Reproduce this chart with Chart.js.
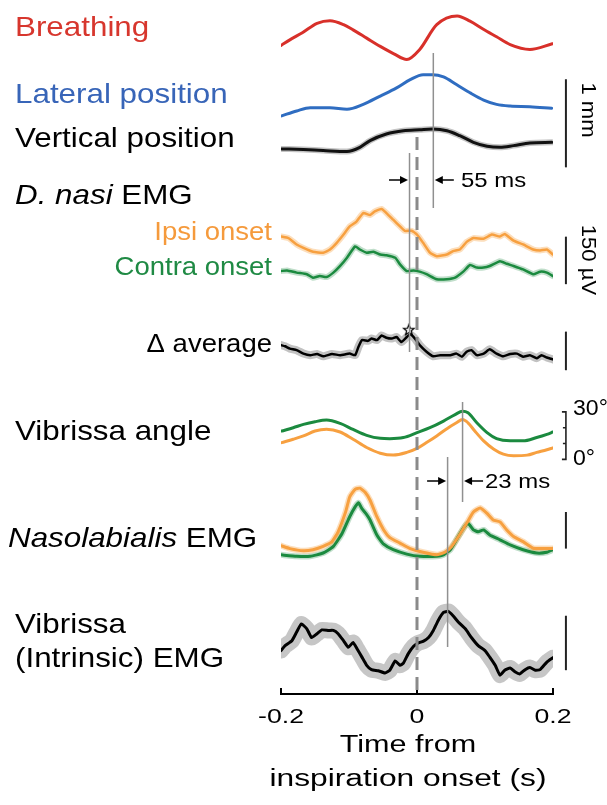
<!DOCTYPE html>
<html>
<head>
<meta charset="utf-8">
<script src="https://cdn.jsdelivr.net/npm/chart.js@4.4.1/dist/chart.umd.min.js"></script>
<style>
  html, body { margin: 0; padding: 0; background: #fff; }
  #wrap { width: 607px; height: 805px; position: relative; }
</style>
</head>
<body>
<div id="wrap"><canvas id="fig" width="607" height="805"></canvas></div>
<script>
// ---- data (time in s) ----
const tickValues = [-0.2, 0, 0.2];
const tickLabels = ['-0.2', '0', '0.2'];

// breathing (a.u.)
const breathT = [-0.2, -0.187, -0.168, -0.147, -0.128, -0.108, -0.094, -0.074, -0.054, -0.034, -0.015, 0.004, 0.029, 0.059, 0.078, 0.097, 0.117, 0.137, 0.166, 0.199];
const breathV = [0.32, 0.45, 0.62, 0.83, 0.89, 0.80, 0.68, 0.49, 0.30, 0.13, 0.00, 0.23, 0.80, 1.00, 0.88, 0.70, 0.52, 0.34, 0.23, 0.36];

// lateral / vertical position (mm)
const latT = [-0.199, -0.177, -0.157, -0.128, -0.103, -0.079, -0.054, -0.030, -0.010, 0.009, 0.023, 0.039, 0.058, 0.078, 0.098, 0.117, 0.137, 0.166, 0.198];
const latV = [0, 0.056, 0.093, 0.093, 0.075, 0.131, 0.225, 0.318, 0.412, 0.468, 0.468, 0.442, 0.356, 0.262, 0.180, 0.131, 0.112, 0.105, 0.087];
const vertT = [-0.199, -0.167, -0.138, -0.103, -0.084, -0.069, -0.045, -0.020, 0.004, 0.023, 0.044, 0.063, 0.083, 0.103, 0.122, 0.142, 0.166, 0.198];
const vertV = [0.030, 0.022, 0.011, 0, 0.048, 0.124, 0.199, 0.236, 0.247, 0.255, 0.236, 0.180, 0.105, 0.060, 0.048, 0.067, 0.097, 0.104];

// D. nasi EMG (uV)
const ipsiT = [-0.2, -0.189, -0.177, -0.167, -0.153, -0.138, -0.128, -0.118, -0.108, -0.099, -0.089, -0.079, -0.069, -0.062, -0.052, -0.045, -0.035, -0.025, -0.018, -0.008, 0.000, 0.009, 0.019, 0.029, 0.044, 0.053, 0.063, 0.073, 0.083, 0.098, 0.110, 0.122, 0.129, 0.142, 0.156, 0.171, 0.181, 0.191, 0.200];
const ipsiV = [63, 58, 38, 27, 15, 12, 22, 43, 69, 95, 110, 137, 131, 142, 150, 137, 116, 95, 81, 81, 69, 43, 12, 1, 6, 17, 22, 46, 58, 56, 69, 63, 71, 50, 38, 22, 19, 22, 6];
const contraT = [-0.200, -0.191, -0.177, -0.162, -0.153, -0.143, -0.133, -0.123, -0.113, -0.103, -0.091, -0.084, -0.074, -0.064, -0.054, -0.045, -0.032, -0.025, -0.015, -0.005, 0.004, 0.014, 0.029, 0.044, 0.056, 0.068, 0.078, 0.088, 0.098, 0.107, 0.122, 0.132, 0.142, 0.156, 0.171, 0.181, 0.191, 0.200];
const contraV = [29, 31, 24, 19, 8, 13, 10, 24, 45, 71, 107, 97, 87, 90, 81, 79, 71, 50, 29, 31, 27, 19, 3, 3, 8, 27, 48, 40, 40, 45, 60, 52, 45, 34, 19, 27, 24, 13];

// delta average (a.u.)
const deltaT = [-0.2, -0.194, -0.187, -0.177, -0.167, -0.157, -0.147, -0.138, -0.125, -0.113, -0.099, -0.091, -0.086, -0.081, -0.072, -0.067, -0.059, -0.052, -0.045, -0.037, -0.030, -0.023, -0.015, -0.010, -0.003, 0.004, 0.014, 0.024, 0.034, 0.049, 0.058, 0.066, 0.073, 0.080, 0.088, 0.098, 0.107, 0.117, 0.127, 0.137, 0.147, 0.156, 0.166, 0.176, 0.183, 0.191, 0.200];
const deltaV = [0.37, 0.34, 0.28, 0.24, 0.15, 0.11, 0.14, 0.08, 0.14, 0.11, 0.15, 0.11, 0.33, 0.50, 0.48, 0.54, 0.50, 0.62, 0.56, 0.54, 0.58, 0.45, 0.58, 0.65, 0.54, 0.37, 0.20, 0.08, 0.11, 0.11, 0.15, 0.07, 0.20, 0.24, 0.11, 0.15, 0.26, 0.15, 0.08, 0.14, 0.15, 0.07, 0.11, 0.03, 0.11, 0.05, 0.00];
const deltaPeakT = [-0.012];
const deltaPeakV = [0.76];

// vibrissa angle (deg)
const angGreenT = [-0.199, -0.182, -0.167, -0.150, -0.133, -0.113, -0.094, -0.074, -0.054, -0.040, -0.020, 0.000, 0.019, 0.039, 0.056, 0.067, 0.075, 0.088, 0.103, 0.117, 0.137, 0.156, 0.176, 0.191, 0.2];
const angGreenV = [17.9, 20.0, 22.1, 23.8, 24.8, 22.7, 18.9, 15.2, 13.3, 13.1, 13.8, 16.9, 20.0, 24.2, 28.3, 30.4, 29.4, 23.1, 16.9, 13.1, 11.7, 11.7, 13.8, 15.8, 17.3];
const angOrangeT = [-0.199, -0.182, -0.167, -0.150, -0.133, -0.113, -0.094, -0.074, -0.054, -0.035, -0.015, 0.000, 0.014, 0.029, 0.044, 0.058, 0.067, 0.075, 0.085, 0.098, 0.113, 0.127, 0.142, 0.162, 0.176, 0.191, 0.200];
const angOrangeV = [10.6, 12.7, 14.8, 17.9, 19.0, 17.3, 12.7, 7.5, 3.9, 2.7, 4.4, 6.9, 10.6, 14.8, 19.4, 23.1, 25.2, 23.1, 17.9, 11.7, 6.4, 3.3, 2.3, 2.7, 4.4, 6.1, 7.3];

// nasolabialis EMG (a.u.)
const nasoOrangeT = [-0.2, -0.187, -0.167, -0.153, -0.138, -0.125, -0.116, -0.105, -0.099, -0.091, -0.084, -0.076, -0.069, -0.059, -0.049, -0.040, -0.025, -0.010, 0.009, 0.029, 0.041, 0.051, 0.061, 0.073, 0.083, 0.093, 0.103, 0.112, 0.122, 0.132, 0.142, 0.156, 0.171, 0.185, 0.200];
const nasoOrangeV = [0.32, 0.24, 0.18, 0.21, 0.30, 0.43, 0.70, 1.24, 1.65, 1.86, 1.89, 1.77, 1.56, 1.11, 0.75, 0.54, 0.39, 0.24, 0.14, 0.07, 0.14, 0.30, 0.57, 0.93, 1.24, 1.35, 1.20, 1.02, 0.97, 0.75, 0.57, 0.43, 0.25, 0.24, 0.24];
const nasoGreenT = [-0.2, -0.177, -0.157, -0.138, -0.123, -0.110, -0.099, -0.091, -0.086, -0.081, -0.074, -0.069, -0.059, -0.049, -0.035, -0.015, 0.004, 0.029, 0.039, 0.049, 0.058, 0.068, 0.075, 0.083, 0.090, 0.098, 0.107, 0.122, 0.137, 0.156, 0.176, 0.191, 0.2];
const nasoGreenV = [0.07, 0.03, 0.03, 0.12, 0.30, 0.66, 1.11, 1.38, 1.49, 1.33, 1.17, 1.02, 0.61, 0.36, 0.21, 0.09, 0.03, 0.03, 0.07, 0.21, 0.48, 0.79, 0.93, 0.75, 0.70, 0.75, 0.61, 0.48, 0.34, 0.21, 0.12, 0.14, 0.21];

// vibrissa intrinsic EMG (a.u.)
const intrT = [-0.2, -0.194, -0.184, -0.177, -0.170, -0.162, -0.155, -0.147, -0.140, -0.130, -0.123, -0.116, -0.108, -0.101, -0.094, -0.088, -0.081, -0.074, -0.067, -0.057, -0.047, -0.040, -0.032, -0.025, -0.020, -0.013, -0.005, 0.002, 0.009, 0.017, 0.024, 0.031, 0.039, 0.046, 0.053, 0.061, 0.071, 0.080, 0.090, 0.100, 0.107, 0.115, 0.122, 0.129, 0.137, 0.144, 0.151, 0.159, 0.166, 0.174, 0.181, 0.191, 0.200];
const intrV = [0.47, 0.56, 0.65, 0.81, 0.96, 0.87, 0.71, 0.78, 0.85, 0.84, 0.84, 0.78, 0.65, 0.53, 0.62, 0.50, 0.35, 0.20, 0.12, 0.10, 0.06, 0.11, 0.28, 0.20, 0.24, 0.41, 0.55, 0.61, 0.64, 0.71, 0.84, 1.02, 1.17, 1.19, 1.11, 0.99, 0.87, 0.71, 0.56, 0.47, 0.35, 0.20, 0.02, 0.11, 0.15, 0.08, 0.04, 0.12, 0.16, 0.11, 0.12, 0.26, 0.34];

// ---- layout: each row gets its own hidden y axis (baseline px, px per unit) ----
const areaBottom = 694;
const rows = {
  breath: { base: 53, ppu: 44 },
  lat:    { base: 110, ppu: 89 },
  vert:   { base: 146, ppu: 89 },
  ipsi:   { base: 252, ppu: 0.32 },
  contra: { base: 276, ppu: 0.32 },
  delta:  { base: 356, ppu: 39 },
  angle:  { base: 457, ppu: 1.6 },
  naso:   { base: 556, ppu: 37 },
  intr:   { base: 676, ppu: 55 }
};

const RED = '#d8302a', BLUE = '#2f6dc1', ORANGE = '#f7a040', GREEN = '#1b8a3f';
const FONT = '"Liberation Sans", Arial, sans-serif';

function pts(ts, vs) {
  return ts.map((t, i) => ({ x: t, y: vs[i] }));
}

function trace(ts, vs, axis, color, width, smooth) {
  return {
    data: pts(ts, vs), yAxisID: axis, borderColor: color, borderWidth: width,
    pointRadius: 0, fill: false, order: 1,
    cubicInterpolationMode: smooth ? 'monotone' : 'default', tension: smooth ? 0.4 : 0.15,
    borderJoinStyle: 'round', borderCapStyle: 'round'
  };
}

function band(ts, vs, axis, color, width, smooth) {
  const d = trace(ts, vs, axis, color, width, smooth);
  d.order = 5;
  return d;
}

function starImage() {
  const c = document.createElement('canvas');
  c.width = c.height = 14;
  const g = c.getContext('2d');
  g.beginPath();
  for (let i = 0; i < 10; i++) {
    const r = i % 2 ? 2.4 : 5.6;
    const a = -Math.PI / 2 + i * Math.PI / 5;
    g.lineTo(7 + r * Math.cos(a), 7 + r * Math.sin(a));
  }
  g.closePath();
  g.fillStyle = '#fff';
  g.fill();
  g.strokeStyle = '#000';
  g.lineWidth = 1.2;
  g.stroke();
  return c;
}

const datasets = [
  trace(breathT, breathV, 'breath', RED, 3, true),
  trace(latT, latV, 'lat', BLUE, 3, true),
  band(vertT, vertV, 'vert', '#c4c4c4', 6, true),
  trace(vertT, vertV, 'vert', '#111', 3, true),
  band(ipsiT, ipsiV, 'ipsi', 'rgba(247,160,64,0.35)', 6, false),
  trace(ipsiT, ipsiV, 'ipsi', ORANGE, 2.5, false),
  band(contraT, contraV, 'contra', 'rgba(27,138,63,0.28)', 6, false),
  trace(contraT, contraV, 'contra', GREEN, 2.5, false),
  band(deltaT, deltaV, 'delta', '#c2c2c2', 8, false),
  trace(deltaT, deltaV, 'delta', '#000', 2.5, false),
  {
    type: 'scatter', data: pts(deltaPeakT, deltaPeakV), yAxisID: 'delta', order: 0,
    pointStyle: starImage(), pointRadius: 6, showLine: false
  },
  trace(angGreenT, angGreenV, 'angle', GREEN, 3, true),
  trace(angOrangeT, angOrangeV, 'angle', ORANGE, 3, true),
  band(nasoOrangeT, nasoOrangeV, 'naso', 'rgba(247,160,64,0.35)', 6, false),
  trace(nasoOrangeT, nasoOrangeV, 'naso', ORANGE, 3, false),
  band(nasoGreenT, nasoGreenV, 'naso', 'rgba(27,138,63,0.28)', 6, false),
  trace(nasoGreenT, nasoGreenV, 'naso', GREEN, 3, false),
  band(intrT, intrV, 'intr', '#c6c6c6', 16, false),
  trace(intrT, intrV, 'intr', '#000', 3, false)
];

// ---- annotations ----
const guides = [
  { t: 0, y0: 137, y1: 690, color: '#8a8a8a', width: 3, dash: [13, 7] },
  { t: 0.024, y0: 53, y1: 208, color: '#909090', width: 1.5 },
  { t: -0.011, y0: 153, y1: 352, color: '#909090', width: 1.5 },
  { t: 0.067, y0: 402, y1: 502, color: '#909090', width: 1.5 },
  { t: 0.045, y0: 457, y1: 647, color: '#909090', width: 1.5 }
];
const arrows = [
  { tip: -0.011, dir: 1, y: 180 },
  { tip: 0.024, dir: -1, y: 180 },
  { tip: 0.045, dir: 1, y: 481 },
  { tip: 0.067, dir: -1, y: 481 }
];
const barT = 0.219;
const scaleBars = [
  { axis: 'lat', from: -0.584, to: 0.416 },
  { axis: 'contra', from: -12.5, to: 137.5 },
  { axis: 'delta', from: -0.28, to: 0.72 },
  { axis: 'naso', from: 0.24, to: 1.24 },
  { axis: 'intr', from: 0.11, to: 1.11 }
];
const angleBracket = { axis: 'angle', from: 0, to: 30, marks: [10, 20] };

const labels = [
  { parts: [{ t: 'Breathing' }], x: 15, y: 36, color: '#d7362d', size: 28, sx: 1.12 },
  { parts: [{ t: 'Lateral position' }], x: 15, y: 103, color: '#3865b8', size: 28, sx: 1.12 },
  { parts: [{ t: 'Vertical position' }], x: 15, y: 147, color: '#000', size: 28, sx: 1.12 },
  { parts: [{ t: 'D. nasi', it: true }, { t: ' EMG' }], x: 15, y: 204, color: '#000', size: 28, sx: 1.12 },
  { parts: [{ t: 'Ipsi onset' }], x: 272, y: 240, color: '#f59a3c', size: 25, sx: 1.1, align: 'right' },
  { parts: [{ t: 'Contra onset' }], x: 272, y: 275, color: '#1f8a44', size: 25, sx: 1.1, align: 'right' },
  { parts: [{ t: '\u0394 average' }], x: 272, y: 352, color: '#000', size: 25, sx: 1.1, align: 'right' },
  { parts: [{ t: 'Vibrissa angle' }], x: 15, y: 440, color: '#000', size: 28, sx: 1.12 },
  { parts: [{ t: 'Nasolabialis', it: true }, { t: ' EMG' }], x: 8, y: 547, color: '#000', size: 28, sx: 1.12 },
  { parts: [{ t: 'Vibrissa' }], x: 15, y: 633, color: '#000', size: 28, sx: 1.12 },
  { parts: [{ t: '(Intrinsic) EMG' }], x: 15, y: 667, color: '#000', size: 28, sx: 1.12 },
  { parts: [{ t: '55 ms' }], x: 461, y: 187, color: '#000', size: 21, sx: 1.14 },
  { parts: [{ t: '23 ms' }], x: 485, y: 488, color: '#000', size: 21, sx: 1.14 },
  { parts: [{ t: '30\u00b0' }], x: 573, y: 415, color: '#000', size: 22, sx: 1.05 },
  { parts: [{ t: '0\u00b0' }], x: 573, y: 465, color: '#000', size: 22, sx: 1.05 },
  { parts: [{ t: 'Time from' }], x: 408, y: 752, color: '#000', size: 23, sx: 1.33, align: 'center' },
  { parts: [{ t: 'inspiration onset (s)' }], x: 408, y: 786, color: '#000', size: 23, sx: 1.38, align: 'center' }
];
const sideLabels = [
  { t: '1 mm', x: 588, y: 110, size: 21, sx: 1.05 },
  { t: '150 \u00b5V', x: 588, y: 260, size: 21, sx: 1.05 }
];

function fontFor(size, it) {
  return (it ? 'italic ' : '') + size + 'px ' + FONT;
}

function drawRich(ctx, lab) {
  ctx.save();
  ctx.textBaseline = 'alphabetic';
  ctx.textAlign = 'left';
  let w = 0;
  lab.parts.forEach(p => { ctx.font = fontFor(lab.size, p.it); w += ctx.measureText(p.t).width; });
  ctx.translate(lab.x, lab.y);
  ctx.scale(lab.sx || 1, 1);
  let cx = lab.align === 'right' ? -w : lab.align === 'center' ? -w / 2 : 0;
  lab.parts.forEach(p => {
    ctx.font = fontFor(lab.size, p.it);
    ctx.fillStyle = lab.color;
    ctx.fillText(p.t, cx, 0);
    cx += ctx.measureText(p.t).width;
  });
  ctx.restore();
}

const figurePlugin = {
  id: 'figure',
  afterDatasetsDraw(chart) {
    const ctx = chart.ctx;
    const xs = chart.scales.x;

    guides.forEach(g => {
      const px = xs.getPixelForValue(g.t);
      ctx.save();
      ctx.strokeStyle = g.color;
      ctx.lineWidth = g.width;
      ctx.setLineDash(g.dash || []);
      ctx.beginPath();
      ctx.moveTo(px, g.y0);
      ctx.lineTo(px, g.y1);
      ctx.stroke();
      ctx.restore();
    });

    arrows.forEach(a => {
      const tip = xs.getPixelForValue(a.tip) - a.dir * 1.5;
      const tail = tip - a.dir * 19;
      ctx.save();
      ctx.strokeStyle = '#000';
      ctx.fillStyle = '#000';
      ctx.lineWidth = 1.5;
      ctx.beginPath();
      ctx.moveTo(tail, a.y);
      ctx.lineTo(tip - a.dir * 5, a.y);
      ctx.stroke();
      ctx.beginPath();
      ctx.moveTo(tip, a.y);
      ctx.lineTo(tip - a.dir * 8, a.y - 4);
      ctx.lineTo(tip - a.dir * 8, a.y + 4);
      ctx.closePath();
      ctx.fill();
      ctx.restore();
    });

    const bx = xs.getPixelForValue(barT);
    ctx.save();
    ctx.strokeStyle = '#222';
    ctx.lineWidth = 2;
    scaleBars.forEach(b => {
      const ys = chart.scales[b.axis];
      ctx.beginPath();
      ctx.moveTo(bx, ys.getPixelForValue(b.from));
      ctx.lineTo(bx, ys.getPixelForValue(b.to));
      ctx.stroke();
    });
    const ay = chart.scales[angleBracket.axis];
    const y0 = ay.getPixelForValue(angleBracket.from), y1 = ay.getPixelForValue(angleBracket.to);
    ctx.lineWidth = 1.6;
    ctx.beginPath();
    ctx.moveTo(bx - 4, y1); ctx.lineTo(bx, y1); ctx.lineTo(bx, y0); ctx.lineTo(bx - 4, y0);
    angleBracket.marks.forEach(m => {
      const my = ay.getPixelForValue(m);
      ctx.moveTo(bx - 3, my); ctx.lineTo(bx, my);
    });
    ctx.stroke();
    ctx.restore();

    labels.forEach(l => drawRich(ctx, l));

    sideLabels.forEach(s => {
      ctx.save();
      ctx.translate(s.x, s.y);
      ctx.rotate(Math.PI / 2);
      ctx.scale(s.sx, 1);
      ctx.font = fontFor(s.size);
      ctx.fillStyle = '#000';
      ctx.textAlign = 'center';
      ctx.textBaseline = 'middle';
      ctx.fillText(s.t, 0, 0);
      ctx.restore();
    });

    tickValues.forEach((v, i) => {
      drawRich(ctx, {
        parts: [{ t: tickLabels[i] }], x: xs.getPixelForValue(v), y: 723,
        color: '#000', size: 21, sx: 1.27, align: 'center'
      });
    });
  }
};

const scales = {
  x: {
    type: 'linear', min: -0.2, max: 0.2, position: 'bottom',
    afterBuildTicks: s => { s.ticks = tickValues.map(v => ({ value: v })); },
    afterFit: s => { s.height = 805 - areaBottom; },
    ticks: { display: false },
    grid: { drawOnChartArea: false, drawTicks: true, tickLength: -6, color: '#000', lineWidth: 2 },
    border: { display: true, color: '#000', width: 2 }
  }
};
Object.keys(rows).forEach(k => {
  const r = rows[k];
  scales[k] = {
    type: 'linear', display: false,
    min: -(areaBottom - r.base) / r.ppu,
    max: r.base / r.ppu
  };
});

new Chart(document.getElementById('fig'), {
  type: 'line',
  data: { datasets: datasets },
  options: {
    responsive: false,
    animation: false,
    parsing: true,
    layout: { padding: { left: 281, right: 54, top: 0, bottom: 0 } },
    plugins: { legend: { display: false }, tooltip: { enabled: false } },
    scales: scales
  },
  plugins: [figurePlugin]
});
</script>
</body>
</html>
